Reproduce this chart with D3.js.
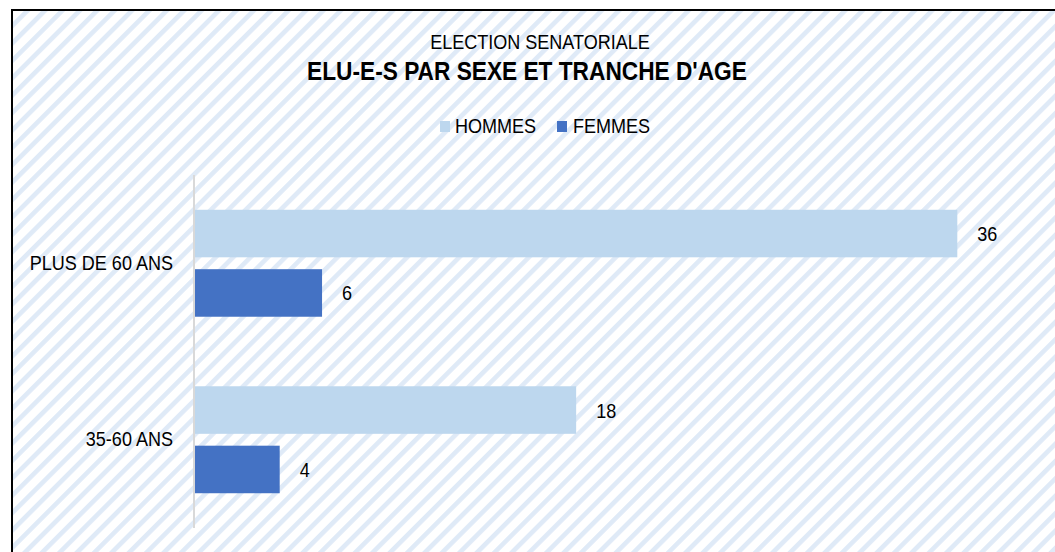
<!DOCTYPE html>
<html>
<head>
<meta charset="utf-8">
<script src="https://cdn.jsdelivr.net/npm/d3@7"></script>
<style>
  html, body { margin: 0; padding: 0; background: #ffffff; }
  svg { display: block; }
  text { font-family: "Liberation Sans", Arial, sans-serif; fill: #000; }
</style>
</head>
<body>
<script>
const categories = ["PLUS DE 60 ANS", "35-60 ANS"];
const seriesNames = ["HOMMES", "FEMMES"];
const hommes = [36, 18];
const femmes = [6, 4];
const seriesColors = ["#bdd7ee", "#4472c4"];
const titleTop = "ELECTION SENATORIALE";
const titleMain = "ELU-E-S PAR SEXE ET TRANCHE D'AGE";

const W = 1055, H = 552;
const SX = 0.88;   // horizontal text compression seen in reference
const FS = 20.5;   // regular text size

const svg = d3.select("body").append("svg").attr("width", W).attr("height", H);

const defs = svg.append("defs");
const pat = defs.append("pattern")
  .attr("id", "hatch")
  .attr("patternUnits", "userSpaceOnUse")
  .attr("width", 12.3).attr("height", 12.3)
  .attr("patternTransform", "rotate(45)");
pat.append("rect").attr("x", 0).attr("y", 0).attr("width", 12.3).attr("height", 12.3).attr("fill", "#ffffff");
pat.append("rect").attr("x", 0).attr("y", 0).attr("width", 4.6).attr("height", 12.3).attr("fill", "#dfeaf7");

// chart frame (extends past the right/bottom edge as in the reference)
svg.append("rect")
  .attr("x", 12).attr("y", 10)
  .attr("width", W + 20).attr("height", H + 20)
  .attr("fill", "url(#hatch)")
  .attr("stroke", "#000").attr("stroke-width", 2);

function ctext(x, y, str, size, weight, anchor, sx) {
  return svg.append("text")
    .attr("transform", `translate(${x},${y}) scale(${sx || SX},1)`)
    .attr("text-anchor", anchor || "middle")
    .style("font-size", size + "px")
    .style("font-weight", weight || "normal")
    .text(str);
}

// titles
ctext(540, 49, titleTop, FS, "normal");
ctext(527, 80, titleMain, 25.5, "bold", "middle", 0.89);

// scales
const x = d3.scaleLinear().domain([0, 40]).range([195, 1042]);
const y0 = d3.scaleBand().domain(categories).range([175, 528]).paddingInner(0.394).paddingOuter(0.197);
const y1 = d3.scaleBand().domain(seriesNames).range([0, y0.bandwidth()]).paddingInner(0.2);

const data = categories.map((c, i) => ({ cat: c, values: [
  { s: seriesNames[0], v: hommes[i] },
  { s: seriesNames[1], v: femmes[i] }
]}));

// legend
const legendItems = [
  { name: seriesNames[0], color: seriesColors[0], sq: 440, tx: 455 },
  { name: seriesNames[1], color: seriesColors[1], sq: 557, tx: 573 }
];
legendItems.forEach(d => {
  svg.append("rect").attr("x", d.sq).attr("y", 121).attr("width", 10).attr("height", 11).attr("fill", d.color);
  ctext(d.tx, 133, d.name, FS, "normal", "start");
});

// bars
const groups = svg.selectAll("g.grp").data(data).enter().append("g")
  .attr("class", "grp")
  .attr("transform", d => `translate(0,${y0(d.cat)})`);

groups.selectAll("rect").data(d => d.values).enter().append("rect")
  .attr("x", x(0))
  .attr("y", d => y1(d.s))
  .attr("width", d => x(d.v) - x(0))
  .attr("height", y1.bandwidth())
  .attr("fill", (d, i) => seriesColors[i]);

groups.selectAll("text.val").data(d => d.values).enter().append("text")
  .attr("class", "val")
  .attr("transform", d => `translate(${x(d.v) + 20},${y1(d.s) + y1.bandwidth() / 2 + 7.5}) scale(${SX},1)`)
  .style("font-size", FS + "px")
  .text(d => d.v);

// category axis
const yAxis = d3.axisLeft(d3.scaleBand().domain(categories).range([175, 528])).tickSize(0).tickPadding(0);
const ag = svg.append("g").attr("transform", "translate(194,0)").call(yAxis);
ag.select(".domain").attr("stroke", "#d9d9d9").attr("stroke-width", 2).attr("d", "M0,175V528");
ag.selectAll(".tick text")
  .attr("x", null).attr("dy", null)
  .attr("transform", `translate(-21,6.5) scale(${SX},1)`)
  .attr("text-anchor", "end")
  .style("font-family", '"Liberation Sans", Arial, sans-serif')
  .style("font-size", FS + "px")
  .attr("fill", "#000");
</script>
</body>
</html>
